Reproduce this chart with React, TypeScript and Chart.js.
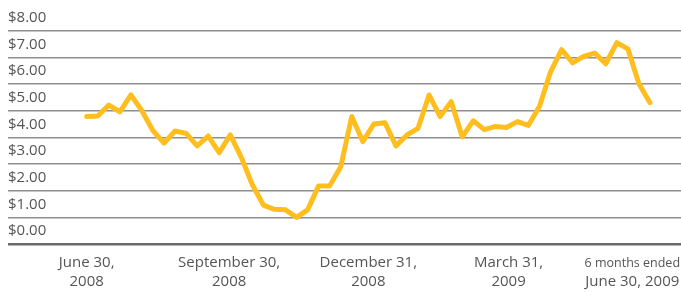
import React, { useEffect, useRef } from 'react';
import { Chart, registerables } from 'chart.js';

Chart.register(...registerables);

// Weekly share price, June 30, 2008 – June 30, 2009 (USD)
const prices: number[] = [
  4.78, 4.80, 5.21, 4.96, 5.59, 5.00, 4.25, 3.78, 4.24, 4.15,
  3.68, 4.05, 3.43, 4.09, 3.25, 2.22, 1.46, 1.30, 1.28, 1.00,
  1.28, 2.18, 2.18, 2.90, 4.78, 3.84, 4.50, 4.55, 3.68, 4.09,
  4.34, 5.59, 4.78, 5.34, 4.02, 4.62, 4.29, 4.41, 4.37, 4.59,
  4.45, 5.17, 6.46, 7.29, 6.79, 7.04, 7.16, 6.76, 7.55, 7.32,
  6.01, 5.30,
];

const xTickPositions: number[] = [0, 12.9, 25.5, 38.2, 49.4];
const xTickLine1: string[] = ['June 30,', 'September 30,', 'December 31,', 'March 31,', '6 months ended'];
const xTickLine2: string[] = ['2008', '2008', '2008', '2009', 'June 30, 2009'];
const yTickValues: number[] = [0, 1, 2, 3, 4, 5, 6, 7, 8];

const FONT = "'Open Sans', 'Noto Sans', sans-serif";
const TEXT = '#555555';
const X_MIN = -7.125;
const X_MAX = 53.81;

export default function App() {
  const ref = useRef<HTMLCanvasElement>(null);

  useEffect(() => {
    document.body.style.margin = '0';
    const setTicks = (axis: any) => {
      axis.ticks = xTickPositions.map((v) => ({ value: v }));
    };
    const chart = new Chart(ref.current as HTMLCanvasElement, {
      type: 'line',
      data: {
        datasets: [
          {
            data: prices.map((y, i) => ({ x: i, y })),
            xAxisID: 'x',
            yAxisID: 'y',
            borderColor: '#FFBE1E',
            borderWidth: 5,
            pointRadius: 0,
            tension: 0,
            borderJoinStyle: 'round',
            borderCapStyle: 'round',
          },
        ],
      },
      options: {
        animation: false,
        responsive: true,
        maintainAspectRatio: false,
        layout: { padding: { left: 8, right: 0, top: 30.7, bottom: 0 } },
        plugins: { legend: { display: false }, tooltip: { enabled: false } },
        scales: {
          x: {
            type: 'linear',
            position: 'bottom',
            weight: 0,
            min: X_MIN,
            max: X_MAX,
            grid: { display: false, drawTicks: false },
            border: { display: false },
            afterBuildTicks: setTicks,
            afterFit: (axis: any) => {
              axis.paddingLeft = 0;
              axis.paddingRight = 0;
              axis.height = 28;
            },
            ticks: {
              autoSkip: false,
              maxRotation: 0,
              minRotation: 0,
              padding: 9,
              color: TEXT,
              font: (ctx: any) => ({
                family: FONT,
                size: ctx.index === 4 ? 12.5 : 15,
                lineHeight: '20px',
              }),
              callback: (_v: any, i: number) => xTickLine1[i],
            },
          },
          x2: {
            type: 'linear',
            position: 'bottom',
            weight: 1,
            min: X_MIN,
            max: X_MAX,
            grid: { display: false, drawTicks: false },
            border: { display: false },
            afterBuildTicks: setTicks,
            afterFit: (axis: any) => {
              axis.paddingLeft = 0;
              axis.paddingRight = 0;
              axis.height = 20;
            },
            ticks: {
              autoSkip: false,
              maxRotation: 0,
              minRotation: 0,
              padding: 0,
              color: TEXT,
              font: { family: FONT, size: 15, lineHeight: '20px' },
              callback: (_v: any, i: number) => xTickLine2[i],
            },
          },
          y: {
            type: 'linear',
            min: 0,
            max: 8,
            position: 'left',
            grid: {
              drawTicks: false,
              color: (ctx: any) => (ctx.tick && ctx.tick.value === 0 ? '#6a6a6a' : '#8e8e8e'),
              lineWidth: (ctx: any) => (ctx.tick && ctx.tick.value === 0 ? 2.5 : 1.5),
            },
            border: { display: false },
            afterBuildTicks: (axis: any) => {
              axis.ticks = yTickValues.map((v) => ({ value: v }));
            },
            ticks: {
              mirror: true,
              padding: 0,
              labelOffset: -13,
              color: TEXT,
              font: { family: FONT, size: 15 },
              callback: (v: any) => '$' + Number(v).toFixed(2),
            },
          },
        },
      },
    });
    return () => chart.destroy();
  }, []);

  return (
    <div style={{ width: 681, height: 292, position: 'relative' }}>
      <canvas ref={ref} />
    </div>
  );
}
